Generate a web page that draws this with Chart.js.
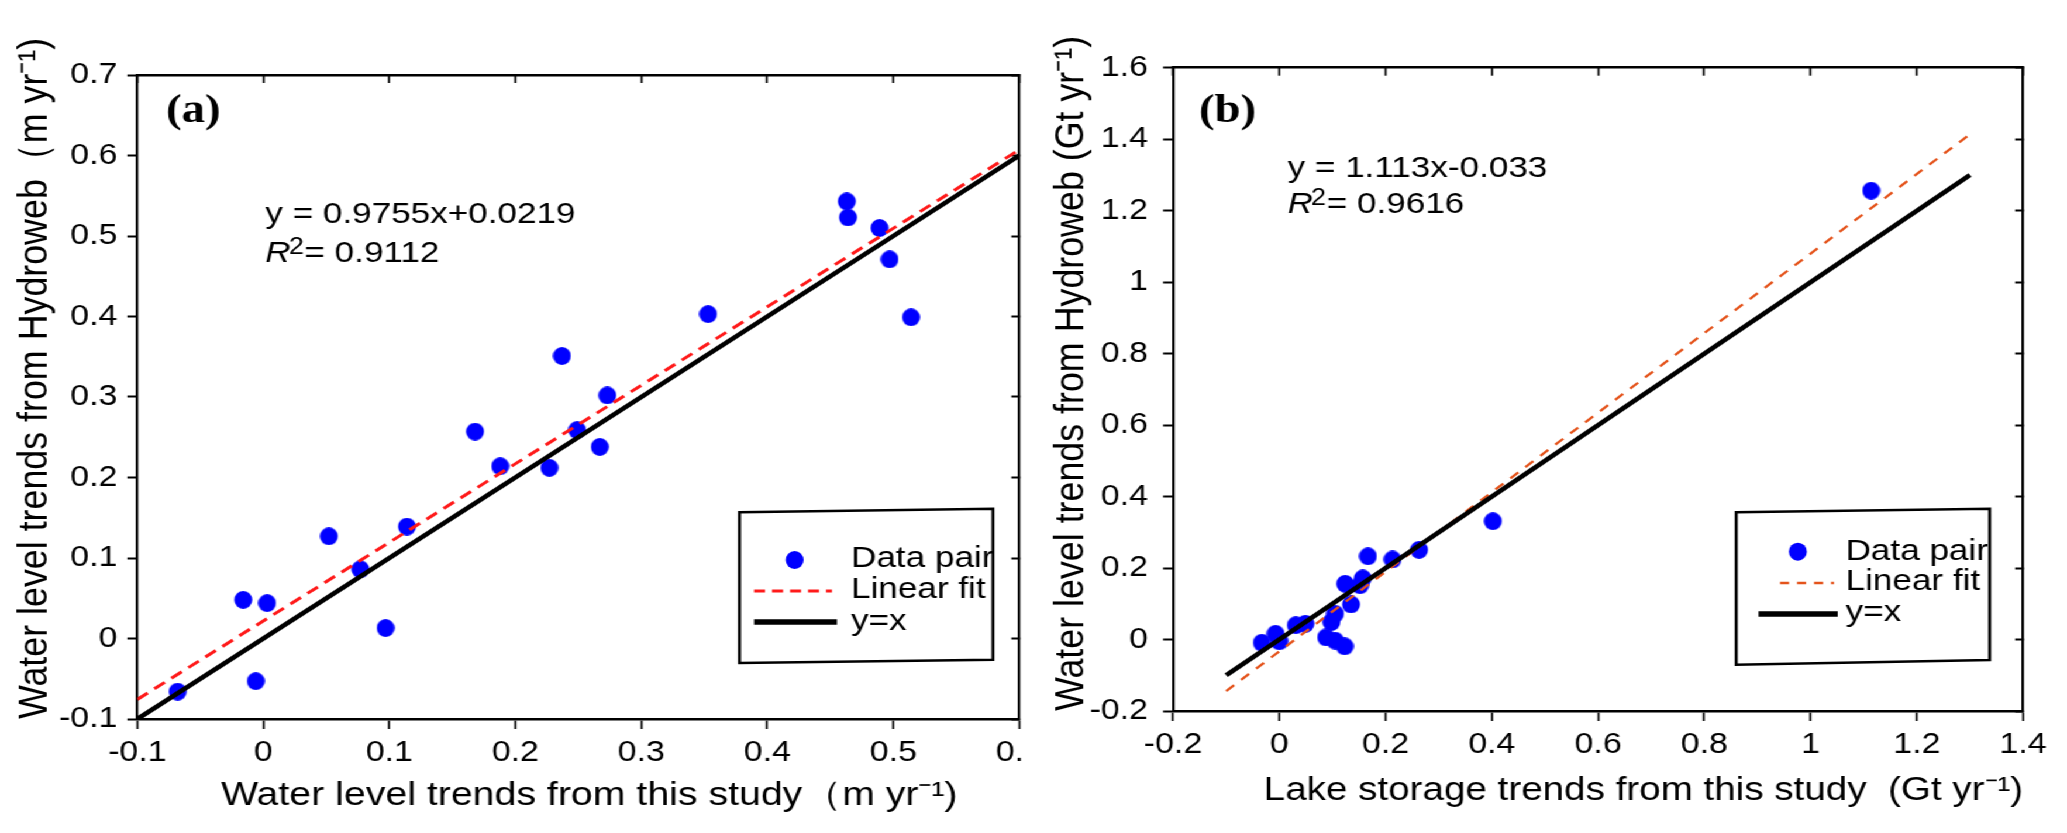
<!DOCTYPE html>
<html>
<head>
<meta charset="utf-8">
<script src="https://cdn.jsdelivr.net/npm/chart.js@4.4.1/dist/chart.umd.min.js"></script>
<style>
  html, body { margin: 0; padding: 0; background: #ffffff; overflow: hidden; }
  #wrap { position: absolute; left: 0; top: 0; width: 1767px; height: 833px; transform-origin: 0 0; }
  #clipA { position: absolute; left: 0; top: 0; width: 874px; height: 833px; overflow: hidden; }
  #ca { position: absolute; left: 0; top: 0; }
  #cb { position: absolute; left: 880px; top: 0; }
</style>
</head>
<body>
<div id="wrap">
  <div id="clipA"><canvas id="ca" width="920" height="833"></canvas></div>
  <canvas id="cb" width="887" height="833"></canvas>
</div>
<script>
// ---------------- data ----------------
// Panel (a): water level trends (m yr-1)
const xA = [0.237, 0.273, 0.353, 0.463, 0.464, 0.489, 0.497, 0.514, 0.168, 0.249, 0.267, 0.188, 0.227, 0.114, 0.052, 0.077, -0.016, 0.003, 0.097, -0.006, -0.068];
const yA = [0.351, 0.302, 0.403, 0.543, 0.523, 0.510, 0.471, 0.399, 0.257, 0.259, 0.238, 0.214, 0.212, 0.139, 0.127, 0.086, 0.048, 0.044, 0.013, -0.053, -0.066];
const fitAX = [-0.1, 0.6];
const fitAY = [-0.0757, 0.6072];
const oneAX = [-0.1, 0.6];
const oneAY = [-0.1, 0.6];
const ticksAX = [-0.1, 0, 0.1, 0.2, 0.3, 0.4, 0.5, 0.6];
const ticksAY = [-0.1, 0, 0.1, 0.2, 0.3, 0.4, 0.5, 0.6, 0.7];

// Panel (b): lake storage trends (Gt yr-1)
const xB = [1.114, 0.402, 0.263, 0.213, 0.167, 0.157, 0.152, 0.124, 0.135, 0.105, 0.098, 0.049, 0.031, 0.088, 0.105, 0.123, -0.007, -0.033, 0.0];
const yB = [1.256, 0.331, 0.251, 0.224, 0.233, 0.171, 0.152, 0.156, 0.098, 0.072, 0.049, 0.044, 0.040, 0.006, -0.003, -0.019, 0.016, -0.009, -0.005];
const fitBX = [-0.1, 1.3];
const fitBY = [-0.1443, 1.4139];
const oneBX = [-0.1, 1.3];
const oneBY = [-0.1, 1.3];
const ticksBX = [-0.2, 0, 0.2, 0.4, 0.6, 0.8, 1, 1.2, 1.4];
const ticksBY = [-0.2, 0, 0.2, 0.4, 0.6, 0.8, 1, 1.2, 1.4, 1.6];

// Texts
const legendLabels = ['Data pair', 'Linear fit', 'y=x'];
const panelLabels = ['(a)', '(b)'];
const eqA = 'y = 0.9755x+0.0219';
const r2A = '= 0.9112';
const eqB = 'y = 1.113x-0.033';
const r2B = '= 0.9616';
const xTitleA = '  Water level trends from this study\uFF08m yr\u207B\u00B9)';
const yTitleA = 'Water level trends from Hydroweb\uFF08m yr\u207B\u00B9)';
const xTitleB = 'Lake storage trends from this study  (Gt yr\u207B\u00B9)';
const yTitleB = 'Water level trends from Hydroweb (Gt yr\u207B\u00B9)';

// ---------------- rendering ----------------
const S = 2067 / 1767;            // the reference figure is stretched horizontally
document.getElementById('wrap').style.transform = 'scaleX(' + S + ')';
const FAM = "'Liberation Sans', Arial, Helvetica, sans-serif";
const SERIF = "'Liberation Serif', 'Times New Roman', serif";

function dotImage() {
  const c = document.createElement('canvas');
  c.width = 16; c.height = 18;
  const g = c.getContext('2d');
  g.fillStyle = '#0000ff';
  g.beginPath();
  g.ellipse(8, 9, 9 / S, 9, 0, 0, Math.PI * 2);
  g.fill();
  return c;
}
const DOT = dotImage();

function pts(xs, ys) { return xs.map((x, i) => ({ x: x, y: ys[i] })); }
function fmt(v) { return String(Math.round(v * 10) / 10); }

function buildScales(o) {
  const setTicks = (arr) => (s) => { s.ticks = arr.map(v => ({ value: v })); };
  const tickFont = { family: FAM, size: 29 };
  return {
    x: {
      type: 'linear', position: 'bottom', min: o.xmin, max: o.xmax,
      afterBuildTicks: setTicks(o.xt),
      ticks: { font: tickFont, color: '#000', padding: 7, maxRotation: 0, autoSkip: false, callback: fmt },
      grid: { display: true, drawOnChartArea: false, drawTicks: true, tickLength: 10, tickWidth: 2 / S, tickColor: '#000', color: '#000' },
      border: { display: true, color: '#000', width: 2.6 },
      title: { display: true, text: o.xTitle, align: o.xAlign, color: '#000', font: { family: FAM, size: o.xTitleSize }, padding: { top: 0, bottom: o.xTitlePad } },
      afterFit: (s) => { s.height = o.xh; s.paddingLeft = 0; s.paddingRight = 0; }
    },
    y: {
      type: 'linear', position: 'left', min: o.ymin, max: o.ymax,
      afterBuildTicks: setTicks(o.yt),
      ticks: { font: tickFont, color: '#000', padding: o.yTickPad, autoSkip: false, callback: fmt },
      grid: { display: true, drawOnChartArea: false, drawTicks: true, tickLength: 10 / S, tickWidth: 2, tickColor: '#000', color: '#000' },
      border: { display: true, color: '#000', width: 2.6 / S },
      title: { display: true, text: o.yTitle, align: 'start', color: '#000', font: { family: FAM, size: 35.8 }, padding: { top: o.yTitlePad, bottom: 0 } },
      afterFit: (s) => { s.width = o.yw; s.paddingTop = 0; s.paddingBottom = 0; }
    },
    x2: {
      type: 'linear', axis: 'x', position: 'top', min: o.xmin, max: o.xmax,
      afterBuildTicks: setTicks(o.xt),
      ticks: { display: false },
      grid: { display: true, drawOnChartArea: false, drawTicks: true, tickLength: -8, tickWidth: 2 / S, tickColor: '#000', color: '#000' },
      border: { display: true, color: '#000', width: 2.6 },
      afterFit: (s) => { s.height = 0; s.paddingLeft = 0; s.paddingRight = 0; }
    },
    y2: {
      type: 'linear', axis: 'y', position: 'right', min: o.ymin, max: o.ymax,
      afterBuildTicks: setTicks(o.yt),
      ticks: { display: false },
      grid: { display: true, drawOnChartArea: false, drawTicks: true, tickLength: -8 / S, tickWidth: 2, tickColor: '#000', color: '#000' },
      border: { display: true, color: '#000', width: 2.6 / S },
      afterFit: (s) => { s.width = 0; s.paddingTop = 0; s.paddingBottom = 0; }
    }
  };
}

const decoPlugin = {
  id: 'deco',
  afterDraw(chart, args, d) {
    const ctx = chart.ctx;
    ctx.save();
    ctx.textBaseline = 'alphabetic';
    ctx.textAlign = 'left';
    ctx.fillStyle = '#000';
    // panel label
    ctx.font = 'bold 40px ' + SERIF;
    ctx.fillText(d.label, d.labelX, d.labelY);
    // equation
    ctx.font = '30px ' + FAM;
    ctx.fillText(d.eq, d.eqX, d.eqY1);
    ctx.font = 'italic 30px ' + FAM;
    ctx.fillText('R', d.eqX, d.eqY2);
    let x = d.eqX + ctx.measureText('R').width - 1.5;
    ctx.font = '23px ' + FAM;
    ctx.fillText('2', x, d.eqY2 - 8);
    x += ctx.measureText('2').width + 0.5;
    ctx.font = '30px ' + FAM;
    ctx.fillText(d.r2, x, d.eqY2);
    // legend box (slightly skewed, as in the reference)
    const b = d.box;
    ctx.beginPath();
    ctx.moveTo(b[0], b[1]); ctx.lineTo(b[2], b[3]); ctx.lineTo(b[4], b[5]); ctx.lineTo(b[6], b[7]); ctx.closePath();
    ctx.fillStyle = '#fff';
    ctx.fill();
    ctx.lineWidth = 2.6;
    ctx.strokeStyle = '#000';
    ctx.stroke();
    // legend marker
    ctx.fillStyle = '#0000ff';
    ctx.beginPath();
    ctx.ellipse(d.dot[0], d.dot[1], 9 / S, 9, 0, 0, Math.PI * 2);
    ctx.fill();
    // legend dashed line
    ctx.strokeStyle = d.dashColor;
    ctx.lineWidth = d.dashW;
    ctx.setLineDash(d.dashPat.map(v => v / S));
    ctx.beginPath(); ctx.moveTo(d.dash[0], d.dash[2]); ctx.lineTo(d.dash[1], d.dash[2]); ctx.stroke();
    ctx.setLineDash([]);
    // legend solid line
    ctx.strokeStyle = '#000';
    ctx.lineWidth = 5.5;
    ctx.beginPath(); ctx.moveTo(d.solid[0], d.solid[2]); ctx.lineTo(d.solid[1], d.solid[2]); ctx.stroke();
    // legend texts
    ctx.fillStyle = '#000';
    ctx.font = '30px ' + FAM;
    legendLabels.forEach((t, i) => ctx.fillText(t, d.textX, d.textY[i]));
    ctx.restore();
  }
};

function makeChart(id, o, deco) {
  return new Chart(document.getElementById(id), {
    type: 'scatter',
    data: {
      datasets: [
        { label: legendLabels[2], data: pts(o.oneX, o.oneY), showLine: true, borderColor: '#000', borderWidth: 4.5, pointRadius: 0, tension: 0, fill: false, order: 0 },
        { label: legendLabels[1], data: pts(o.fitX, o.fitY), showLine: true, borderColor: o.dashColor, borderWidth: o.dashW, borderDash: o.dashPat, pointRadius: 0, tension: 0, fill: false, order: 1 },
        { label: legendLabels[0], data: pts(o.xs, o.ys), showLine: false, pointStyle: DOT, pointRadius: 9, backgroundColor: '#0000ff', borderWidth: 0, order: 2 }
      ]
    },
    options: {
      responsive: false,
      animation: false,
      events: [],
      layout: { padding: { left: 0, right: o.padRight, top: o.padTop, bottom: 0 } },
      scales: buildScales(o),
      plugins: { legend: { display: false }, tooltip: { enabled: false }, deco: deco }
    },
    plugins: [decoPlugin]
  });
}

makeChart('ca', {
  xs: xA, ys: yA, fitX: fitAX, fitY: fitAY, oneX: oneAX, oneY: oneAY,
  xmin: -0.1, xmax: 0.6, ymin: -0.1, ymax: 0.7, xt: ticksAX, yt: ticksAY,
  xTitle: xTitleA, yTitle: yTitleA, xAlign: 'center', xTitleSize: 33.6, xTitlePad: 16.8, yTitlePad: 8.3, yTickPad: 8.5,
  xh: 114, yw: 117.4, padRight: 48.6, padTop: 75,
  dashColor: '#ff1a1a', dashW: 3, dashPat: [11, 7]
}, {
  label: panelLabels[0], labelX: 141.9, labelY: 122,
  eq: eqA, r2: r2A, eqX: 226.8, eqY1: 223.3, eqY2: 261.7,
  box: [632.2, 512.3, 848.8, 508.7, 848.8, 659.7, 632.2, 663],
  dot: [679.3, 560], textX: 727.5, textY: [567, 598, 629.7],
  dash: [644.6, 711.2, 591], solid: [644.6, 715.5, 622],
  dashColor: '#ff1a1a', dashW: 3, dashPat: [11, 7]
});

makeChart('cb', {
  xs: xB, ys: yB, fitX: fitBX, fitY: fitBY, oneX: oneBX, oneY: oneBY,
  xmin: -0.2, xmax: 1.4, ymin: -0.2, ymax: 1.6, xt: ticksBX, yt: ticksBY,
  xTitle: xTitleB, yTitle: yTitleB, xAlign: 'end', xTitleSize: 33, xTitlePad: 21.8, yTitlePad: 15.1, yTickPad: 12.9,
  xh: 122, yw: 122.8, padRight: 37.5, padTop: 67.7,
  dashColor: '#e4531b', dashW: 2.3, dashPat: [9, 8]
}, {
  label: panelLabels[1], labelX: 145.0, labelY: 122,
  eq: eqB, r2: r2B, eqX: 220.7, eqY1: 176.7, eqY2: 213.3,
  box: [604.2, 512.3, 820.9, 508.7, 820.9, 660, 604.2, 664.7],
  dot: [656.9, 551.7], textX: 697.7, textY: [559.7, 589.7, 621.3],
  dash: [641.7, 687.8, 583], solid: [623.3, 691.0, 614],
  dashColor: '#e4531b', dashW: 2.3, dashPat: [9, 8]
});
</script>
</body>
</html>
